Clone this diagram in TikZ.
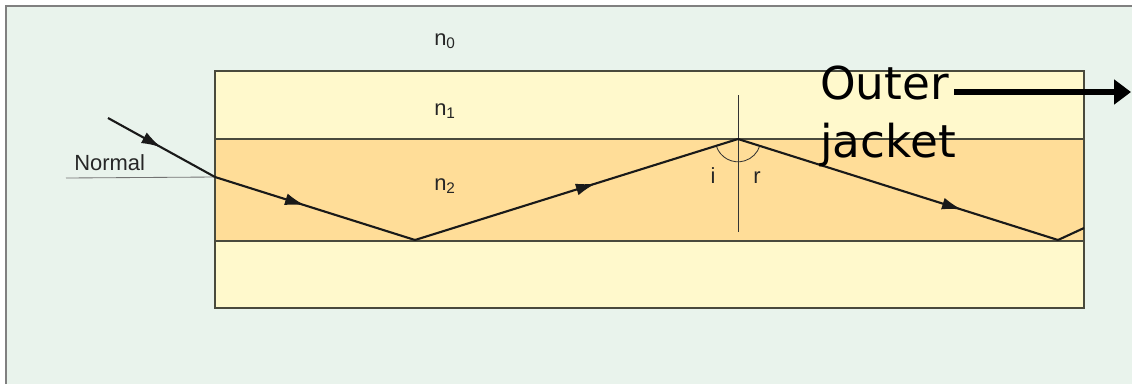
\documentclass[tikz,border=0pt]{standalone}
\usepackage{fontspec}
\setmainfont{Liberation Sans}
\newfontfamily\bigfont{DejaVu Sans}
\usepackage{xcolor}
\usetikzlibrary{arrows.meta,calc,decorations.markings}

\definecolor{panel}{HTML}{E9F3EC}
\definecolor{clad}{HTML}{FFF9CC}
\definecolor{core}{HTML}{FFDD98}
\definecolor{edge}{HTML}{4A4A3C}

\begin{document}
\begin{tikzpicture}[x=0.025cm,y=-0.025cm,>=Stealth,
  midarr/.style={postaction={decorate,decoration={markings,
    mark=at position #1 with {\arrow{Latex[length=0.5cm,width=0.3cm]}}}}}]
\tikzstyle{lbl}=[inner sep=0,anchor=base west,font=\fontsize{15.6}{18}\selectfont,text=black!85]
\tikzstyle{big}=[inner sep=0,anchor=base west,font=\bigfont\fontsize{32.2}{40}\selectfont]
\tikzstyle{ray}=[line width=1.5pt,black!90]
\tikzstyle{nrm}=[line width=0.6pt,black!80]
\useasboundingbox (0,0) rectangle (1132,384);
% background panel
\fill[panel] (6,6) rectangle (1132,384);
\draw[line width=1pt,black!50] (6,384) -- (6,6) -- (1132,6);
% fibre: cladding and core
\fill[clad] (215,71) rectangle (1084,308);
\fill[core] (215,139) rectangle (1084,241);
\draw[line width=0.9pt,edge] (215,139) -- (1084,139);
\draw[line width=0.9pt,edge] (215,241) -- (1084,241);
\draw[line width=1.1pt,edge] (215,71) rectangle (1084,308);
% points of the ray
\coordinate (p0) at (108,118);
\coordinate (p1) at (215,177);
\coordinate (p2) at (415,240);
\coordinate (p3) at (738,139);
\coordinate (p4) at (1058,240);
\coordinate (p5) at (1084,228);
% normals
\coordinate (nl) at (66,178);
\coordinate (nt) at (738,95);
\coordinate (nb) at (738,232);
\draw[nrm,black!55] (nl) -- (p1);
\draw[nrm] (nt) -- (nb);
\draw[nrm] ($(p3)+(197.4:0.57cm)$) arc[start angle=197.4,end angle=342.5,radius=0.57cm];
% the ray
\draw[ray,midarr=0.5] (p0) -- (p1);
\draw[ray,midarr=0.45] (p1) -- (p2);
\draw[ray,midarr=0.56] (p2) -- (p3);
\draw[ray,midarr=0.70] (p3) -- (p4);
\draw[ray] (p4) -- (p5);
% labels
\node[lbl] (n0) at (434,45) {n\textsubscript{0}};
\node[lbl] (n1) at (434,115) {n\textsubscript{1}};
\node[lbl] (n2) at (434,190) {n\textsubscript{2}};
\node[lbl] (normal) at (74,170) {Normal};
\node[lbl,anchor=base] (i) at (713,183) {i};
\node[lbl,anchor=base] (r) at (757,183) {r};
\node[big] (outer) at (820,99) {Outer};
\node[big] (jacket) at (820,157) {jacket};
\coordinate (tip) at (1131,92);
\draw[line width=4.3pt,-{Triangle[length=0.42cm,width=0.6cm]}] ($(outer.east |- tip)+(5,0)$) -- (tip);
\end{tikzpicture}
\end{document}
